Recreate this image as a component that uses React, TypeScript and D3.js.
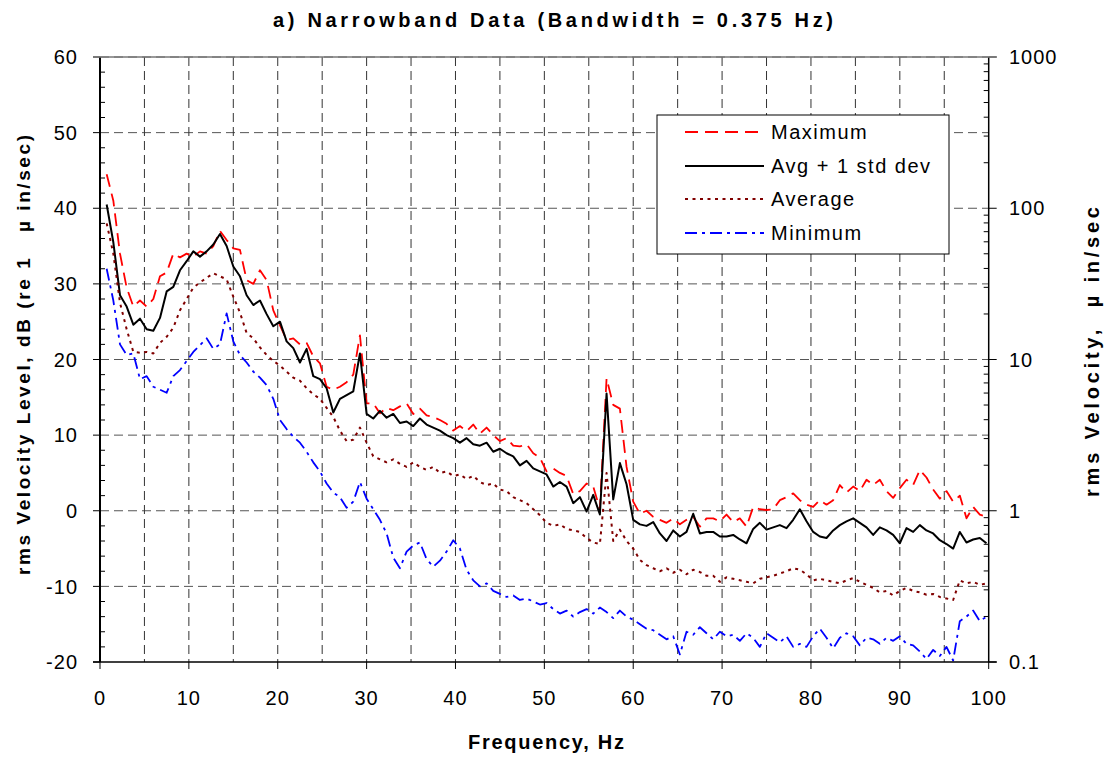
import React from 'react';
import * as d3 from 'd3';

// Frequency bins (Hz), 0.75 Hz spacing
const freqs: number[] = d3.range(1, 134).map((k) => k * 0.75);

const maximum: number[] = [
  44.5, 41.0, 34.0, 29.5, 27.0, 27.8, 27.0, 28.0, 31.0, 31.5,
  34.0, 33.5, 34.0, 33.6, 34.3, 34.0, 35.0, 37.0, 35.8, 34.7,
  34.5, 30.5, 30.0, 31.8, 30.5, 26.5, 24.5, 22.6, 22.8, 22.0,
  22.2, 20.4, 19.5, 16.4, 16.0, 16.4, 17.0, 18.0, 23.2, 14.2,
  14.2, 12.9, 13.6, 13.3, 13.8, 14.2, 12.8, 13.5, 12.6, 12.4,
  12.0, 11.5, 10.6, 11.2, 10.5, 11.4, 10.2, 11.0, 10.0, 9.2,
  9.6, 8.6, 8.5, 8.8, 7.6, 7.0, 5.2, 5.6, 5.0, 4.6,
  2.2, 2.6, 3.6, 3.2, 0.2, 17.5, 14.0, 13.5, 5.8, 1.2,
  -0.4, 0.0, -0.8, -1.2, -1.6, -1.0, -1.8, -1.2, -0.8, -2.1,
  -1.0, -1.0, -1.4, -0.5, -1.5, -1.0, -2.1, 0.5, 0.2, 0.1,
  0.2, 1.4, 1.8, 2.3, 1.4, 0.8, 0.5, 1.4, 0.8, 1.4,
  3.4, 2.4, 3.2, 2.6, 4.1, 3.4, 4.1, 2.6, 1.7, 3.0,
  4.1, 3.4, 5.4, 4.4, 2.8, 1.6, 2.6, 1.2, 2.0, -1.0,
  0.5, -0.5, -0.8,
];

const avgPlusStd: number[] = [
  40.5, 35.5, 28.5, 27.0, 24.6, 25.4, 24.0, 23.8, 25.5, 29.0,
  29.6, 31.8, 33.0, 34.3, 33.6, 34.3, 35.2, 36.6, 35.0, 32.3,
  31.0, 28.5, 27.2, 27.8, 26.0, 24.4, 25.0, 22.4, 21.5, 19.6,
  21.4, 17.8, 17.4, 16.2, 13.0, 14.8, 15.3, 15.8, 20.8, 12.8,
  12.2, 13.2, 12.3, 12.8, 11.6, 11.8, 11.2, 12.2, 11.4, 11.0,
  10.6, 10.0, 9.6, 9.0, 9.6, 8.8, 8.6, 9.0, 7.8, 8.2,
  7.6, 7.2, 6.0, 6.6, 5.6, 5.2, 4.8, 3.2, 3.8, 3.2,
  1.0, 1.8, -0.1, 2.1, -0.5, 15.5, 1.5, 6.3, 3.5, -1.2,
  -1.8, -2.0, -1.5, -3.0, -4.0, -2.6, -3.4, -2.8, -0.4, -3.0,
  -2.8, -2.8, -3.4, -3.4, -3.2, -3.8, -4.3, -2.4, -1.6, -2.5,
  -2.2, -1.9, -2.3, -1.2, 0.2, -1.4, -2.8, -3.4, -3.6, -2.6,
  -1.9, -1.4, -1.0, -1.6, -2.2, -3.2, -2.2, -2.6, -3.2, -4.3,
  -2.3, -2.8, -1.9, -2.6, -3.0, -3.9, -4.4, -5.0, -2.8, -4.2,
  -3.8, -3.6, -4.3,
];

const average: number[] = [
  38.0, 34.0, 27.5, 24.0, 21.0, 20.9, 21.0, 20.8, 22.2, 23.0,
  24.2, 26.5, 28.0, 29.5, 30.2, 30.8, 31.4, 31.0, 30.6, 28.3,
  26.2, 23.5, 22.8, 21.6, 20.6, 19.8, 19.2, 18.4, 17.6, 17.2,
  16.2, 15.4, 14.8, 13.6, 12.4, 10.6, 9.2, 9.4, 11.0, 9.0,
  7.2, 6.8, 6.4, 6.8, 6.2, 5.8, 6.4, 5.8, 5.4, 5.8,
  5.0, 5.2, 4.6, 4.8, 4.2, 4.6, 3.8, 3.4, 3.6, 2.8,
  2.6, 1.8, 1.4, 1.0, 0.2, -0.6, -1.6, -2.0, -1.8, -2.4,
  -2.6, -2.8, -3.6, -4.2, -4.4, 5.0, -4.0, -2.5, -4.0, -5.0,
  -6.5, -7.2, -7.6, -8.0, -7.6, -8.2, -7.8, -8.4, -7.8, -8.1,
  -8.6, -8.6, -9.4, -8.8, -9.0, -9.2, -9.4, -9.6, -9.0, -8.8,
  -8.6, -8.3, -8.0, -7.6, -7.8, -8.4, -9.2, -9.0, -9.2, -9.4,
  -9.6, -9.2, -8.9, -9.4, -9.8, -10.2, -10.8, -10.6, -11.2, -10.6,
  -10.2, -10.6, -10.8, -11.1, -11.0, -11.4, -11.6, -11.8, -9.2, -9.6,
  -9.4, -9.8, -9.6,
];

const minimum: number[] = [
  32.0, 27.8, 22.0, 20.6, 20.8, 17.4, 17.8, 16.4, 16.0, 15.6,
  17.8, 18.6, 19.8, 21.0, 21.9, 22.8, 21.4, 22.0, 26.1, 22.4,
  20.6, 19.6, 18.4, 17.6, 16.6, 14.8, 12.0, 10.8, 9.8, 9.0,
  7.8, 6.4, 5.2, 3.6, 2.4, 1.8, 0.4, 1.2, 3.8, 1.6,
  0.2, -1.2, -3.0, -6.2, -7.6, -5.4, -4.6, -4.2, -6.4, -7.4,
  -6.6, -5.4, -3.9, -5.0, -7.8, -9.2, -10.0, -9.6, -10.6, -11.0,
  -11.4, -11.2, -11.8, -11.6, -12.0, -12.4, -12.2, -13.0, -13.6, -13.2,
  -14.0, -13.4, -13.0, -13.6, -12.8, -13.4, -14.2, -13.2, -14.0, -14.4,
  -15.0, -15.6, -15.8, -16.4, -17.0, -16.6, -19.0, -16.0, -16.4, -15.4,
  -16.2, -17.0, -16.0, -16.6, -16.4, -17.2, -16.2, -16.8, -18.0, -16.2,
  -16.8, -17.4, -16.6, -18.0, -17.6, -18.0, -16.6, -15.6, -16.8, -18.2,
  -16.8, -16.2, -16.6, -17.8, -16.8, -17.0, -17.6, -16.8, -17.2, -16.6,
  -17.6, -17.8, -18.6, -19.6, -18.4, -19.2, -18.0, -19.8, -14.6, -14.0,
  -13.2, -14.6, -14.0,
];

const xTicks: number[] = [0, 10, 20, 30, 40, 50, 60, 70, 80, 90, 100];
const xGrid: number[] = [5, 10, 15, 20, 25, 30, 35, 40, 45, 50, 55, 60, 65, 70, 75, 80, 85, 90, 95];
const yTicks: number[] = [-20, -10, 0, 10, 20, 30, 40, 50, 60];
const rightTicks: number[] = [0.1, 1, 10, 100, 1000];
const rightTickLabels: string[] = ['0.1', '1', '10', '100', '1000'];

const seriesNames: string[] = ['Maximum', 'Avg + 1 std dev', 'Average', 'Minimum'];
const seriesValues: number[][] = [maximum, avgPlusStd, average, minimum];
const seriesStyles = [
  { color: '#ff0000', dash: '13,7', width: 1.8 },
  { color: '#000000', dash: '', width: 2 },
  { color: '#800000', dash: '3,4.5', width: 2 },
  { color: '#0000ff', dash: '12,5,3,5', width: 1.8 },
];

const FONT = '"Liberation Sans", Arial, Helvetica, sans-serif';

export default function App() {
  const W = 1105;
  const H = 759;
  const L = 100, R = 988.7, T = 57, B = 662;
  const x = d3.scaleLinear().domain([0, 100]).range([L, R]);
  const y = d3.scaleLinear().domain([-20, 60]).range([B, T]);
  const yR = d3.scaleLog().domain([0.1, 1000]).range([B, T]);

  const line = d3
    .line<[number, number]>()
    .x((d) => x(d[0]))
    .y((d) => y(d[1]));

  const minorLeft = d3.range(-20, 61, 2).filter((v) => v % 10 !== 0);
  const minorRight: number[] = [];
  [0.1, 1, 10, 100].forEach((dec) => {
    for (let m = 2; m <= 9; m++) minorRight.push(dec * m);
  });

  const legendX = 657, legendY = 115, legendW = 292, legendH = 139;
  const legendRows = [132, 166, 199, 233];

  return (
    <svg
      width={W}
      height={H}
      style={{ position: 'absolute', left: 0, top: 0, display: 'block', background: '#fff' }}
      fontFamily={FONT}
    >
      <defs>
        <clipPath id="plotClip">
          <rect x={L} y={T - 2} width={R - L} height={B - T + 2} />
        </clipPath>
      </defs>
      <rect x={0} y={0} width={W} height={H} fill="#fff" />

      {/* gridlines */}
      {yTicks.filter((v) => v !== -20).map((v) => (
        <line key={'hg' + v} x1={L} x2={R} y1={y(v)} y2={y(v)} stroke="#555" strokeWidth={1} strokeDasharray="9,5" />
      ))}
      {xGrid.map((v) => (
        <line key={'vg' + v} x1={x(v)} x2={x(v)} y1={T} y2={B} stroke="#333" strokeWidth={1} strokeDasharray="9,5" />
      ))}

      {/* series */}
      <g clipPath="url(#plotClip)">
        {seriesValues.map((vals, i) => (
          <path
            key={'s' + i}
            d={line(freqs.map((f, j) => [f, vals[j]] as [number, number])) || ''}
            fill="none"
            stroke={seriesStyles[i].color}
            strokeWidth={seriesStyles[i].width}
            strokeDasharray={seriesStyles[i].dash || undefined}
            strokeLinejoin="round"
          />
        ))}
      </g>

      {/* left axis */}
      <line x1={L} x2={L} y1={T} y2={B} stroke="#000" strokeWidth={2} />
      {yTicks.map((v) => (
        <g key={'yt' + v}>
          <line x1={L - 7} x2={L} y1={y(v)} y2={y(v)} stroke="#000" strokeWidth={1} />
          <text x={78} y={y(v)} dy="0.36em" textAnchor="end" fontSize={20} letterSpacing={1}>
            {v}
          </text>
        </g>
      ))}
      {minorLeft.map((v) => (
        <line key={'ym' + v} x1={L} x2={L + 5} y1={y(v)} y2={y(v)} stroke="#000" strokeWidth={1} />
      ))}

      {/* right axis */}
      <line x1={R} x2={R} y1={T} y2={B} stroke="#000" strokeWidth={1.5} />
      {rightTicks.map((v, i) => (
        <g key={'rt' + v}>
          <line x1={R} x2={R + 8} y1={yR(v)} y2={yR(v)} stroke="#000" strokeWidth={1} />
          <text x={1009} y={yR(v)} dy="0.36em" textAnchor="start" fontSize={20} letterSpacing={1}>
            {rightTickLabels[i]}
          </text>
        </g>
      ))}
      {minorRight.map((v) => (
        <line key={'rm' + v} x1={R - 5} x2={R} y1={yR(v)} y2={yR(v)} stroke="#000" strokeWidth={1} />
      ))}

      {/* bottom axis */}
      <line x1={L - 7} x2={R + 8} y1={B} y2={B} stroke="#000" strokeWidth={1.5} />
      {xTicks.map((v) => (
        <g key={'xt' + v}>
          <line x1={x(v)} x2={x(v)} y1={B} y2={B + 7} stroke="#000" strokeWidth={1} />
          <text x={x(v)} y={705} textAnchor="middle" fontSize={20} letterSpacing={1}>
            {v}
          </text>
        </g>
      ))}

      {/* top border (grid at 60) */}
      <line x1={L - 7} x2={R + 8} y1={T} y2={T} stroke="#777" strokeWidth={1.5} />

      {/* legend */}
      <rect x={legendX} y={legendY} width={legendW} height={legendH} fill="#fff" stroke="#000" strokeWidth={1} />
      {seriesNames.map((name, i) => (
        <g key={'lg' + i}>
          <line
            x1={685}
            x2={764}
            y1={legendRows[i]}
            y2={legendRows[i]}
            stroke={seriesStyles[i].color}
            strokeWidth={seriesStyles[i].width}
            strokeDasharray={seriesStyles[i].dash || undefined}
          />
          <text x={771} y={legendRows[i]} dy="0.36em" fontSize={20} letterSpacing={1.5}>
            {name}
          </text>
        </g>
      ))}

      {/* titles */}
      <text x={553} y={27} textAnchor="middle" fontSize={20} fontWeight="bold" textLength={560} lengthAdjust="spacing">
        a)  Narrowband Data (Bandwidth = 0.375 Hz)
      </text>
      <text x={546} y={749} textAnchor="middle" fontSize={20} fontWeight="bold" textLength={156} lengthAdjust="spacing">
        Frequency, Hz
      </text>
      <text
        transform="translate(30,355) rotate(-90)"
        textAnchor="middle"
        fontSize={19}
        fontWeight="bold"
        xmlSpace="preserve"
        textLength={440}
        lengthAdjust="spacing"
      >
        rms Velocity Level, dB (re 1   µ in/sec)
      </text>
      <text
        transform="translate(1099,352) rotate(-90)"
        textAnchor="middle"
        fontSize={20}
        fontWeight="bold"
        xmlSpace="preserve"
        textLength={290}
        lengthAdjust="spacing"
      >
        rms Velocity,  µ in/sec
      </text>
    </svg>
  );
}
